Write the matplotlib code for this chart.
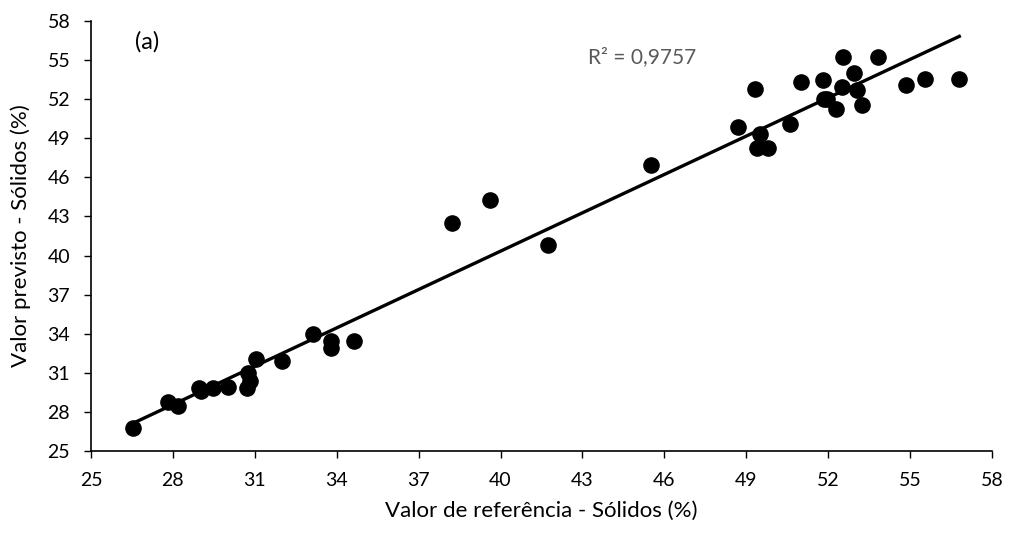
import numpy as np
import matplotlib.pyplot as plt

# reference vs predicted solids (%)
ref = [26.55, 27.83, 28.2, 28.97, 29.03, 29.48, 30.0, 30.7, 30.76, 30.82,
       31.04, 31.98, 33.14, 33.78, 33.78, 34.63, 38.22, 39.63, 41.74, 45.5,
       48.7, 49.3, 49.5, 49.4, 49.8, 50.6, 51.0, 51.8, 51.85, 51.95,
       52.3, 52.5, 52.55, 52.95, 53.06, 53.24, 53.83, 54.85, 55.55, 56.8]
pred = [26.74, 28.78, 28.48, 29.81, 29.63, 29.86, 29.93, 29.8, 30.96, 30.37,
        32.04, 31.9, 33.98, 33.47, 32.88, 33.47, 42.47, 44.26, 40.79, 46.95,
        49.9, 52.8, 49.3, 48.25, 48.25, 50.1, 53.3, 53.5, 52.0, 52.0,
        51.25, 52.9, 55.2, 54.0, 52.7, 51.55, 55.2, 53.1, 53.55, 53.55]
ticks = np.arange(25, 59, 3)

plt.rcParams['font.family'] = ['Lato', 'DejaVu Sans']

fig = plt.figure(figsize=(10.09, 5.34), dpi=100)
ax = fig.add_axes([0.0902, 0.1554, 0.893, 0.8053])

ax.scatter(ref, pred, s=120, color='black', zorder=3)

# linear trendline
coef = np.polyfit(ref, pred, 1)
xs = np.array([min(ref), max(ref)])
ax.plot(xs, np.polyval(coef, xs), color='black', lw=2.4, zorder=2)

ax.set_xlim(25, 58)
ax.set_ylim(25, 58)
ax.set_xticks(ticks)
ax.set_yticks(ticks)
ax.tick_params(labelsize=14, length=5, width=1, pad=10)
ax.spines['top'].set_visible(False)
ax.spines['right'].set_visible(False)
ax.spines['left'].set_linewidth(1.2)
ax.spines['bottom'].set_linewidth(1.2)

ax.set_xlabel('Valor de referência - Sólidos (%)', fontsize=16, labelpad=9)
ax.set_ylabel('Valor previsto - Sólidos (%)', fontsize=16, labelpad=12)

ax.text(26.6, 56.4, '(a)', fontsize=17, ha='left', va='center')
ax.text(43.2, 55.25, 'R² = 0,9757', fontsize=15, color='#595959', ha='left', va='center')

fig.savefig('out.png', dpi=100)
